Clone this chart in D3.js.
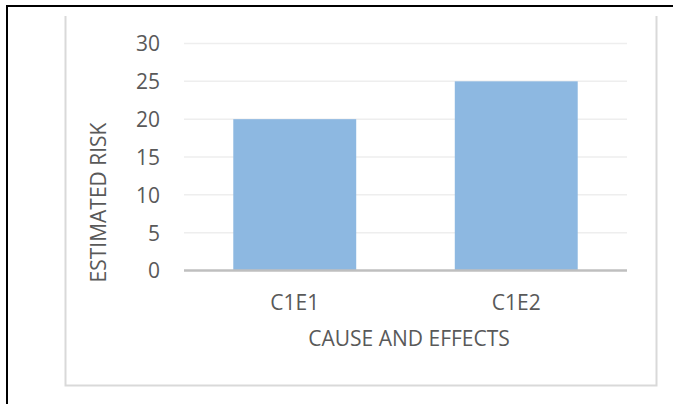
<!DOCTYPE html>
<html>
<head>
<meta charset="utf-8">
<script src="https://cdn.jsdelivr.net/npm/d3@7"></script>
<style>
  html, body { margin: 0; padding: 0; background: #fff; }
  svg { display: block; }
  text { font-family: "Open Sans", "Noto Sans", sans-serif; fill: #595959; }
</style>
</head>
<body>
<script>
// Chart data
const categories = ["C1E1", "C1E2"];
const estimatedRisk = [20, 25];
const yTicks = [0, 5, 10, 15, 20, 25, 30];
const xTitle = "CAUSE AND EFFECTS";
const yTitle = "ESTIMATED RISK";

const W = 673, H = 404;
const FONT = "21px";
const svg = d3.select("body").append("svg").attr("width", W).attr("height", H);

// Table cell border (top and left)
svg.append("line").attr("x1", 6).attr("x2", W).attr("y1", 6).attr("y2", 6)
  .attr("stroke", "#000").attr("stroke-width", 2);
svg.append("line").attr("x1", 7).attr("x2", 7).attr("y1", 5).attr("y2", H)
  .attr("stroke", "#000").attr("stroke-width", 2);

// Chart frame (open at the top)
svg.append("path")
  .attr("d", "M65.5,16 V385.5 H656.5 V16")
  .attr("fill", "none").attr("stroke", "#d9d9d9").attr("stroke-width", 2);

const plot = { left: 184, right: 627, top: 43.5, bottom: 270.5 };

const x = d3.scaleBand().domain(categories)
  .range([plot.left, plot.right])
  .paddingInner(0.445).paddingOuter(0.2225);
const y = d3.scaleLinear().domain([0, 30]).range([plot.bottom, plot.top]);

// Gridlines
svg.append("g").selectAll("line").data(yTicks.filter(d => d > 0)).join("line")
  .attr("x1", plot.left).attr("x2", plot.right)
  .attr("y1", d => y(d)).attr("y2", d => y(d))
  .attr("stroke", "#eeeeee").attr("stroke-width", 1.5);

// Bars
svg.append("g").selectAll("rect").data(categories).join("rect")
  .attr("x", d => x(d))
  .attr("width", x.bandwidth())
  .attr("y", (d, i) => y(estimatedRisk[i]))
  .attr("height", (d, i) => y(0) - y(estimatedRisk[i]))
  .attr("fill", "#8db8e1");

// Category axis line
svg.append("line").attr("x1", plot.left).attr("x2", plot.right)
  .attr("y1", y(0)).attr("y2", y(0))
  .attr("stroke", "#bfbfbf").attr("stroke-width", 2.5);

// Value axis labels
const yAxis = d3.axisLeft(y).tickValues(yTicks).tickSize(0).tickPadding(0);
const gy = svg.append("g").attr("transform", "translate(160,0)").call(yAxis);
gy.select(".domain").remove();
gy.selectAll("text").style("font-size", FONT).attr("fill", "#595959")
  .attr("dy", "0.35em").style("font-family", "'Open Sans', sans-serif");

// Category axis labels
const xAxis = d3.axisBottom(x).tickSize(0).tickPadding(0);
const gx = svg.append("g").attr("transform", `translate(0,${y(0)})`).call(xAxis);
gx.select(".domain").remove();
gx.selectAll("text").style("font-size", FONT).attr("fill", "#595959")
  .attr("y", 32).attr("dy", "0.35em").style("font-family", "'Open Sans', sans-serif");

// Axis titles
svg.append("text").attr("x", 409).attr("y", 339).attr("dy", "0.35em")
  .attr("text-anchor", "middle").style("font-size", FONT).text(xTitle);
svg.append("text")
  .attr("transform", "translate(99,202.5) rotate(-90)")
  .attr("dy", "0.35em").attr("text-anchor", "middle")
  .style("font-size", FONT).text(yTitle);
</script>
</body>
</html>
